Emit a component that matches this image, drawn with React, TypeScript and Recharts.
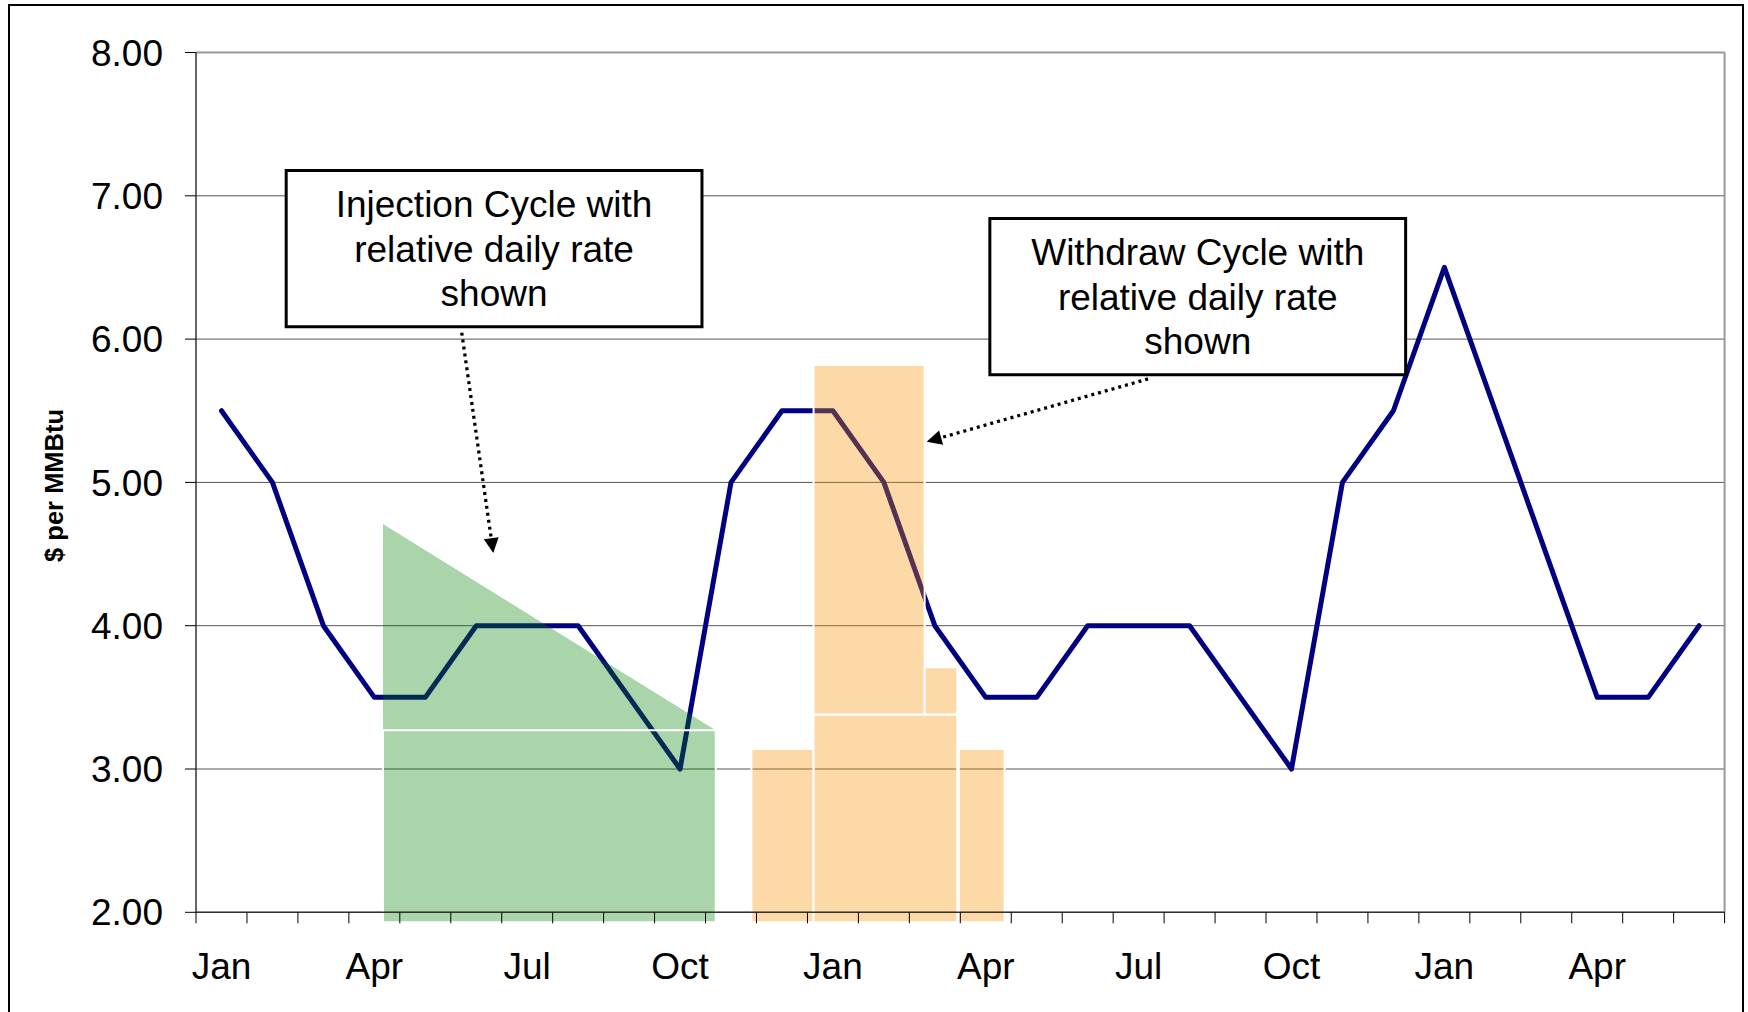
import React from 'react';
import {ComposedChart, Line, Area, XAxis, YAxis, CartesianGrid, ReferenceArea, ReferenceLine} from 'recharts';

// 30 months, Jan of year 1 to Jun of year 3
const months = ['Jan','Feb','Mar','Apr','May','Jun','Jul','Aug','Sep','Oct','Nov','Dec',
  'Jan','Feb','Mar','Apr','May','Jun','Jul','Aug','Sep','Oct','Nov','Dec',
  'Jan','Feb','Mar','Apr','May','Jun'];
const prices = [5.5, 5.0, 4.0, 3.5, 3.5, 4.0, 4.0, 4.0, 3.5, 3.0, 5.0, 5.5,
  5.5, 5.0, 4.0, 3.5, 3.5, 4.0, 4.0, 4.0, 3.5, 3.0, 5.0, 5.5,
  6.5, 5.5, 4.5, 3.5, 3.5, 4.0];
const labelMonthIdx = [0, 3, 6, 9, 12, 15, 18, 21, 24, 27];
const yTicks = [2, 3, 4, 5, 6, 7, 8];

// injection cycle shape (green)
const injectionX = [3.67, 10.2];
const injectionTop = [4.71, 3.27];
const injectionShelf = 3.27;
const injectionFloor = 1.93;

// withdraw cycle blocks (orange)
const withdrawX1 = [10.9, 12.12, 12.12, 14.3, 14.97];
const withdrawX2 = [12.12, 14.94, 14.3, 14.94, 15.87];
const withdrawLow = [1.93, 1.93, 3.38, 3.38, 1.93];
const withdrawHigh = [3.14, 3.38, 5.82, 3.71, 3.14];

// call-out boxes and arrows (data units)
const noteLines = [
  ['Injection Cycle with', 'relative daily rate', 'shown'],
  ['Withdraw Cycle with', 'relative daily rate', 'shown'],
];
const noteX = [[1.77, 9.93], [15.58, 23.74]];
const noteY = [[6.087, 7.176], [5.752, 6.842]];
const arrowFrom = [[5.215, 6.045], [18.685, 5.722]];
const arrowTo = [[5.835, 4.507], [14.34, 5.284]];

const FONT = '"Liberation Sans", Arial, sans-serif';

const lineData = months.map((m, i) => ({x: i + 0.5, month: m, price: prices[i]}));
const injectionData = injectionX.map((x, i) => ({x, range: [injectionShelf, injectionTop[i]]}));
const boundaryTicks = Array.from({length: 31}, (_, i) => i);
const labelTicks = labelMonthIdx.map(i => i + 0.5);

const Arrow = (p: any) => {
  const {x1, y1, x2, y2} = p;
  const dx = x2 - x1, dy = y2 - y1;
  const len = Math.hypot(dx, dy);
  const ux = dx / len, uy = dy / len;
  const head = 15, half = 7.5;
  const bx = x2 - ux * head, by = y2 - uy * head;
  return (
    <g>
      <line x1={x1} y1={y1} x2={bx} y2={by} stroke="#000" strokeWidth={3.3} strokeDasharray="3 4" />
      <polygon points={`${x2},${y2} ${bx - uy * half},${by + ux * half} ${bx + uy * half},${by - ux * half}`} fill="#000" />
    </g>
  );
};

const boxLabel = (lines: string[]) => (props: any) => {
  const {x, y, width, height} = props.viewBox;
  const cx = x + width / 2, cy = y + height / 2;
  const lh = 44.5;
  return (
    <text textAnchor="middle" fontSize={37} fontFamily={FONT} fill="#000">
      {lines.map((t, i) => (
        <tspan key={i} x={cx} y={cy + (i - (lines.length - 1) / 2) * lh} dy="0.355em">{t}</tspan>
      ))}
    </text>
  );
};

const yTitle = (props: any) => {
  const {x, y, height} = props.viewBox;
  const tx = x + 9, ty = y + height / 2 + 3;
  return (
    <text x={tx} y={ty} transform={`rotate(-90, ${tx}, ${ty})`} textAnchor="middle" dominantBaseline="central"
      fontSize={25.5} fontWeight="bold" fontFamily={FONT} fill="#000">$ per MMBtu</text>
  );
};

const NoLabel = () => null;

export default function App() {
  return (
    <div style={{position: 'absolute', left: 0, top: 0, width: 1748, height: 1012, overflow: 'hidden', background: '#fff'}}>
      <ComposedChart width={1748} height={1012} margin={{top: 52.5, right: 23.4, bottom: 0, left: 45}}>
        <CartesianGrid xAxisId="a" vertical={false} stroke="#555" />
        <XAxis xAxisId="a" dataKey="x" type="number" domain={[0, 30]} ticks={boundaryTicks} interval={0}
          tick={NoLabel} height={40} tickSize={11} axisLine={{stroke: '#333', strokeWidth: 1.5}} tickLine={{stroke: '#000'}} />
        <XAxis xAxisId="b" dataKey="x" type="number" domain={[0, 30]} allowDataOverflow ticks={labelTicks} interval={0}
          height={59.7} tickSize={0} tickMargin={0} axisLine={false} tickLine={false}
          tickFormatter={(v: number) => months[Math.floor(v)]}
          tick={{fontSize: 37, fill: '#000', fontFamily: FONT}} />
        <YAxis type="number" domain={[2, 8]} ticks={yTicks} interval={0} width={151}
          tickSize={11} tickMargin={22} tickFormatter={(v: number) => v.toFixed(2)}
          axisLine={{stroke: '#333', strokeWidth: 1.5}} tickLine={{stroke: '#000'}}
          tick={{fontSize: 37, fill: '#000', fontFamily: FONT}} label={{content: yTitle}} />
        <ReferenceLine xAxisId="a" y={8} stroke="#999" strokeWidth={2} />
        <ReferenceLine xAxisId="a" x={30} stroke="#999" strokeWidth={2} />

        <Line xAxisId="a" data={lineData} dataKey="price" type="linear" stroke="#000080" strokeWidth={5}
          strokeLinejoin="round" strokeLinecap="round" dot={false} activeDot={false} isAnimationActive={false} />

        <Area xAxisId="a" data={injectionData} dataKey="range" type="linear" fill="#008000" fillOpacity={0.333}
          stroke="none" isAnimationActive={false} zIndex={450} />
        <ReferenceArea xAxisId="a" x1={injectionX[0]} x2={injectionX[1]} y1={injectionFloor} y2={injectionShelf}
          fill="#008000" fillOpacity={0.333} stroke="#fff" strokeWidth={2} ifOverflow="visible" zIndex={450} />
        {withdrawX1.map((x1, i) => (
          <ReferenceArea key={'w' + i} xAxisId="a" x1={x1} x2={withdrawX2[i]} y1={withdrawLow[i]} y2={withdrawHigh[i]}
            fill="#f69100" fillOpacity={0.345} stroke="#fff" strokeWidth={2} ifOverflow="visible" zIndex={450} />
        ))}

        {noteLines.map((lines, i) => (
          <ReferenceArea key={'n' + i} xAxisId="a" x1={noteX[i][0]} x2={noteX[i][1]} y1={noteY[i][0]} y2={noteY[i][1]}
            fill="#fff" fillOpacity={1} stroke="#000" strokeWidth={3} ifOverflow="visible" zIndex={460}
            label={{content: boxLabel(lines)}} />
        ))}
        {arrowFrom.map((f, i) => (
          <ReferenceLine key={'a' + i} xAxisId="a" ifOverflow="visible" zIndex={470}
            segment={[{x: f[0], y: f[1]}, {x: arrowTo[i][0], y: arrowTo[i][1]}]} shape={Arrow} />
        ))}
      </ComposedChart>
      <div style={{position: 'absolute', left: 8, top: 3.5, width: 1736, height: 1100, border: '2px solid #000', boxSizing: 'border-box', pointerEvents: 'none'}} />
    </div>
  );
}
